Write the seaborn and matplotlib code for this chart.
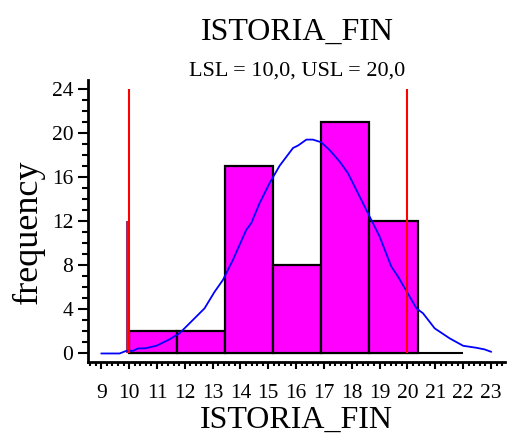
import seaborn as sns
import matplotlib.pyplot as plt
from matplotlib.ticker import MultipleLocator

# histogram bins
bin_edges = [10.0, 11.72, 13.44, 15.16, 16.89, 18.62, 20.37]
bin_left = [10.0, 11.72, 13.44, 15.16, 16.89, 18.62]
counts = [2, 2, 17, 8, 21, 12]

# odd thin bar right at the lower limit
spike_x = [9.93]
spike_h = [12]

# fitted curve
curve_x = [9.0, 9.66, 9.9, 10.14, 10.32, 10.56, 10.98, 11.45, 11.81, 12.29, 12.71,
           13.07, 13.37, 13.73, 14.21, 14.39, 14.69, 15.05, 15.41, 15.89, 16.07,
           16.37, 16.6, 16.9, 17.2, 17.56, 17.86, 18.22, 18.58, 19.0, 19.42, 19.66,
           20.08, 20.32, 20.56, 20.98, 21.52, 22.0, 22.47, 22.77, 23.01]
curve_y = [0.0, 0.0, 0.24, 0.24, 0.46, 0.46, 0.7, 1.28, 1.83, 3.04, 4.1,
           5.6, 6.68, 8.5, 11.24, 11.85, 13.67, 15.5, 17.07, 18.68, 18.9,
           19.44, 19.44, 19.2, 18.5, 17.46, 16.4, 14.58, 12.76, 10.63, 7.9, 6.99,
           5.17, 4.11, 3.65, 2.28, 1.37, 0.7, 0.52, 0.37, 0.15]

lsl, usl = 10.0, 20.0
base_start, base_end = 10.0, 22.0

sns.set_style("ticks")
plt.rcParams['font.family'] = ['Liberation Serif', 'DejaVu Serif']
plt.rcParams['text.color'] = 'black'
plt.rcParams['axes.labelcolor'] = 'black'
plt.rcParams['xtick.color'] = 'black'
plt.rcParams['ytick.color'] = 'black'

fig = plt.figure(figsize=(5.11, 4.37), dpi=100)
ax = fig.add_axes([0.172, 0.172, 0.816, 0.646])

ax.hlines(0, base_start, base_end, color='black', lw=1.5, zorder=1)
sns.histplot(x=bin_left, weights=counts, bins=bin_edges, color='#ff00ff',
             edgecolor='black', linewidth=1.6, alpha=1, ax=ax, zorder=2)
ax.bar(spike_x, spike_h, width=0.08, color='#9a2d6e', linewidth=0, zorder=2)
sns.lineplot(x=curve_x, y=curve_y, color='blue', lw=1.3, ax=ax, zorder=3)
ax.vlines([lsl, usl], 0, 24, color='red', lw=1.5, zorder=4)

ax.set_xlim(8.52, 23.5)
ax.set_ylim(-0.76, 24.9)
ax.xaxis.set_major_locator(MultipleLocator(1))
ax.xaxis.set_minor_locator(MultipleLocator(0.2))
ax.yaxis.set_major_locator(MultipleLocator(4))
ax.yaxis.set_minor_locator(MultipleLocator(1))
ax.tick_params(axis='both', which='major', direction='out', length=7, width=1.5,
               labelsize=15.5)
ax.tick_params(axis='both', which='minor', direction='out', length=4, width=1.5)
ax.tick_params(axis='x', which='major', length=5, pad=11)
ax.tick_params(axis='x', which='minor', length=3)
ax.set_yticks([0, 4, 8, 12, 16, 20, 24])

for s in ['top', 'right']:
    ax.spines[s].set_visible(False)
for s in ['left', 'bottom']:
    ax.spines[s].set_linewidth(2)
    ax.spines[s].set_color('black')

ax.set_xlabel('ISTORIA_FIN', fontsize=23, labelpad=2)
ax.set_ylabel('frequency', fontsize=26)
ax.yaxis.set_label_coords(-0.103, 0.461)

fig.text(0.581, 0.908, 'ISTORIA_FIN', fontsize=23, ha='center')
fig.text(0.581, 0.828, 'LSL = 10,0, USL = 20,0', fontsize=16, ha='center')

fig.savefig('out.png', dpi=100)
